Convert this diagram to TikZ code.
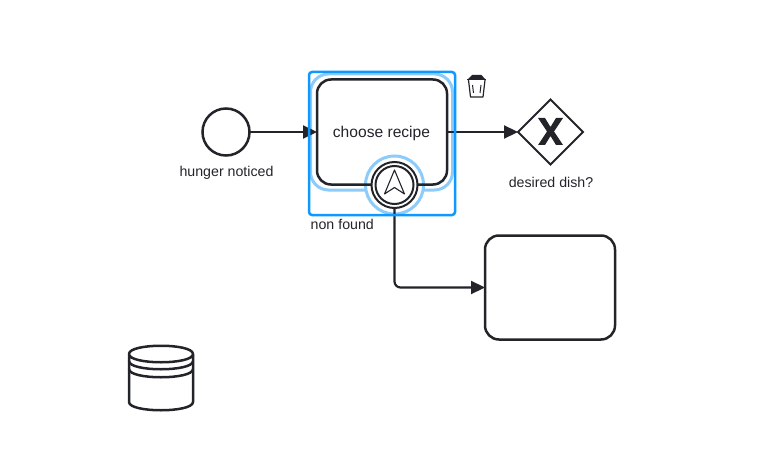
\documentclass[tikz,border=0pt]{standalone}
\usepackage{xcolor}
\usepackage{fontspec}
\setmainfont{Liberation Sans}
\usetikzlibrary{arrows.meta,shapes.geometric}
\definecolor{InkDark}{HTML}{22242A}
\definecolor{SelectBlue}{HTML}{0D99FF}
\definecolor{HaloBlue}{HTML}{8CCBFA}
\tikzset{
    shapeline/.style={draw=InkDark, line width=2.5pt, inner sep=0pt, outer sep=0pt},
    taskbox/.style={shapeline, rectangle, rounded corners=14pt, minimum width=130pt, minimum height=104pt},
    flow/.style={draw=InkDark, line width=2.2pt, -{Triangle[length=14pt,width=13pt]}},
    caption/.style={text=InkDark, font=\fontsize{14.2pt}{16pt}\selectfont, inner sep=0pt},
}

\begin{document}
\begin{tikzpicture}[x=1pt,y=-1pt]
    \useasboundingbox (0,0) rectangle (775,473);
    % selection outlines
    \draw[HaloBlue, line width=3pt, rounded corners=18pt] (310.5,74) rectangle (452.5,190);
    \node[circle, fill=white, draw=HaloBlue, line width=3pt, minimum size=58pt, inner sep=0pt] (halo) at (394.5,185) {};

    \node[shapeline, circle, minimum size=47pt] (hunger) at (226,132) {};
    \node[taskbox, minimum height=105pt] (recipe) at (382,132) {};
    \node[taskbox] (fallback) at (550,287.5) {};
    \node[shapeline, diamond, line width=2pt, minimum size=65pt] (dish) at (550.5,132) {};
    \fill[InkDark] (538,118) -- (545,118) -- (550.5,127) -- (556,118) -- (563,118) -- (554,131.5)
        -- (563,145) -- (556,145) -- (550.5,136) -- (545,145) -- (538,145) -- (547,131.5) -- cycle;

    % boundary event
    \node[shapeline, circle, fill=white, line width=2pt, minimum size=46pt] (found) at (394.5,185) {};
    \node[shapeline, circle, line width=2pt, minimum size=38pt] (foundin) at (394.5,185) {};
    \draw[InkDark, line width=1.1pt, line join=round]
        (394.5,170) -- (384.5,194) -- (394.5,187.5) -- (404.5,194) -- cycle;

    \draw[flow] (hunger) -- (recipe);
    \draw[flow] (recipe) -- (dish);
    \draw[flow, rounded corners=6pt] (found.south) |- (fallback.west);

    \draw[SelectBlue, line width=2.5pt, rounded corners=3pt] (309,72) rectangle (455,215);

    \node[caption] (huntext) at (226.5,173) {hunger noticed};
    \node[caption, font=\fontsize{15.6pt}{18pt}\selectfont] (rectext) at (381.5,133) {choose recipe};
    \node[caption, anchor=west] (nontext) at (310.5,224.5) {non found};
    \node[caption] (distext) at (551,182) {desired dish?};

    % trash icon
    \draw[InkDark, line width=1.2pt, line join=round]
        (468.5,80) -- (470.5,97) -- (483,97) -- (485,80);
    \draw[InkDark, line width=1.2pt] (467,79.5) -- (486,79.5);
    \fill[InkDark] (468,79) -- (472,75) -- (481.5,75) -- (485,79) -- cycle;
    \draw[InkDark, line width=1pt] (472.5,85) -- (473.5,93) (481,85) -- (480,93);

    % data store
    \draw[InkDark, line width=2.5pt, line join=round]
        (129,354) .. controls (129,343) and (193,343) .. (193,354)
        .. controls (193,365) and (129,365) .. (129,354)
        -- (129,402) .. controls (129,413) and (193,413) .. (193,402) -- (193,354);
    \draw[InkDark, line width=2.5pt] (129,361) .. controls (129,372) and (193,372) .. (193,361);
    \draw[InkDark, line width=2.5pt] (129,369) .. controls (129,380) and (193,380) .. (193,369);
\end{tikzpicture}
\end{document}
